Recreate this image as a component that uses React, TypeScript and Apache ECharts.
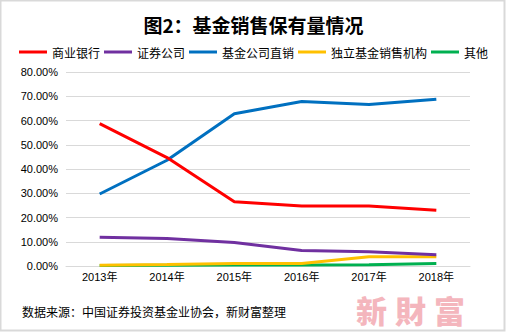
import React, { useEffect, useRef } from "react";
import * as echarts from "echarts";

const categories = ["2013年", "2014年", "2015年", "2016年", "2017年", "2018年"];
const seriesNames = ["商业银行", "证券公司", "基金公司直销", "独立基金销售机构", "其他"];
const bankValues = [58.7, 44.7, 26.5, 24.7, 24.7, 23.0];
const brokerValues = [11.9, 11.3, 9.7, 6.4, 5.9, 4.6];
const directValues = [29.7, 43.6, 62.8, 67.8, 66.6, 68.8];
const independentValues = [0.3, 0.6, 1.0, 1.0, 3.8, 3.8];
const otherValues = [0.2, 0.3, 0.4, 0.4, 0.5, 1.0];
const colors = ["#ff0000", "#7030a0", "#0070c0", "#ffc000", "#00b050"];
const titleText = "图2：基金销售保有量情况";
const sourceText = "数据来源：中国证券投资基金业协会，新财富整理";
const watermarkChars = ["新", "財", "富"];

const FONT = "'Liberation Sans', 'Noto Sans CJK SC', sans-serif";

export default function App() {
  const ref = useRef<HTMLDivElement>(null);
  useEffect(() => {
    document.body.style.margin = "0";
    const chart = echarts.init(ref.current!, null, { renderer: "svg" });
    const allValues = [bankValues, brokerValues, directValues, independentValues, otherValues];
    chart.setOption({
      animation: false,
      backgroundColor: "#ffffff",
      textStyle: { fontFamily: FONT },
      title: {
        text: titleText,
        left: "center",
        top: 10,
        textStyle: { fontSize: 19, fontWeight: "bold", color: "#000", fontFamily: "'Noto Sans CJK SC', sans-serif" },
      },
      legend: {
        top: 41,
        left: "center",
        icon: "rect",
        itemWidth: 28,
        itemHeight: 3,
        itemGap: 4,
        data: seriesNames,
        textStyle: { fontSize: 12, color: "#000", fontFamily: "'Noto Sans CJK SC', sans-serif" },
      },
      grid: { left: 66, right: 37, top: 72, bottom: 66 },
      xAxis: {
        type: "category",
        data: categories,
        boundaryGap: true,
        axisLine: { show: true, lineStyle: { color: "#d9d9d9" } },
        axisTick: { show: false },
        axisLabel: { fontSize: 11, color: "#000", margin: 5, fontFamily: FONT },
      },
      yAxis: {
        type: "value",
        min: 0,
        max: 80,
        interval: 10,
        axisLine: { show: false },
        axisTick: { show: false },
        splitLine: { lineStyle: { color: "#d9d9d9", width: 1 } },
        axisLabel: {
          fontSize: 11,
          color: "#000",
          margin: 8,
          fontFamily: FONT,
          formatter: (v: number) => v.toFixed(2) + "%",
        },
      },
      series: seriesNames.map((name, i) => ({
        name,
        type: "line",
        data: allValues[i],
        symbol: "none",
        color: colors[i],
        lineStyle: { width: 3, color: colors[i] },
        z: 10 - i,
      })),
      graphic: [
        {
          type: "rect",
          shape: { x: 0.5, y: 0.5, width: 504, height: 330 },
          style: { fill: "none", stroke: "#d9d9d9", lineWidth: 2 },
          silent: true,
        },
        ...watermarkChars.map((ch, i) => ({
          type: "text",
          x: 356 + i * 39,
          y: 309,
          style: {
            text: ch,
            fontSize: 31,
            fontWeight: 900,
            fill: "#f4b6bd",
            align: "left",
            verticalAlign: "middle",
            fontFamily: "'Noto Sans CJK SC', serif",
          },
          z: -1,
        })),
        {
          type: "text",
          left: 22,
          top: 305,
          style: {
            text: sourceText,
            fontSize: 12,
            fill: "#000",
            fontFamily: "'Noto Sans CJK SC', sans-serif",
          },
        },
      ],
    });
    return () => chart.dispose();
  }, []);
  return <div ref={ref} style={{ width: 507, height: 332 }} />;
}
